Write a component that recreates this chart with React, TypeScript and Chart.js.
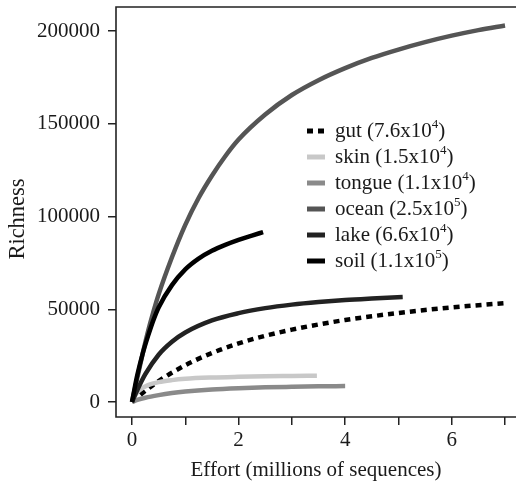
import React, { useEffect, useRef } from 'react';
import { Chart, registerables } from 'chart.js';

Chart.register(...registerables);

// ---- data (effort in millions of sequences, richness = number of OTUs) ----
const seriesNames = ['gut', 'skin', 'tongue', 'ocean', 'lake', 'soil'];
const asymptoteMantissa = ['7.6', '1.5', '1.1', '2.5', '6.6', '1.1'];
const asymptoteExponent = ['4', '4', '4', '5', '4', '5'];
const seriesColors = ['#000000', '#c8c8c8', '#8a8a8a', '#555555', '#222222', '#000000'];

const gutEffort = [0, 0.25, 0.5, 1, 1.5, 2, 2.5, 3, 3.5, 4, 4.5, 5, 5.5, 6, 6.5, 7];
const gutRichness = [0, 6000, 11300, 19800, 26400, 31600, 35700, 39000, 41800, 44200, 46200, 48000, 49600, 51000, 52200, 53300];

const skinEffort = [0, 0.05, 0.1, 0.2, 0.3, 0.5, 0.75, 1, 1.5, 2, 2.5, 3, 3.47];
const skinRichness = [0, 3000, 5200, 7600, 9100, 10700, 11800, 12500, 13200, 13600, 13900, 14050, 14200];

const tongueEffort = [0, 0.1, 0.25, 0.5, 0.75, 1, 1.5, 2, 2.5, 3, 3.5, 4];
const tongueRichness = [0, 1100, 2300, 3700, 4800, 5600, 6700, 7400, 7900, 8200, 8450, 8600];

const oceanEffort = [0, 0.1, 0.2, 0.3, 0.4, 0.5, 0.75, 1, 1.25, 1.5, 1.75, 2, 2.5, 3, 3.5, 4, 4.5, 5, 5.5, 6, 6.5, 7];
const oceanRichness = [0, 13000, 26000, 38000, 48500, 58000, 78000, 95500, 110000, 122000, 132500, 141500, 155000, 165500, 173500, 180000, 185500, 190000, 194000, 197500, 200500, 203000];

const lakeEffort = [0, 0.1, 0.25, 0.5, 0.75, 1, 1.5, 2, 2.5, 3, 3.5, 4, 4.5, 5.08];
const lakeRichness = [0, 6500, 15000, 25500, 32500, 37500, 44000, 47900, 50600, 52500, 53900, 55000, 55800, 56600];

const soilEffort = [0, 0.05, 0.1, 0.2, 0.3, 0.4, 0.5, 0.75, 1, 1.25, 1.5, 1.75, 2, 2.25, 2.46];
const soilRichness = [0, 7500, 14500, 26000, 35500, 44000, 51000, 63000, 71500, 77300, 81500, 84700, 87400, 89700, 91600];

const xTickValues = [0, 1, 2, 3, 4, 5, 6, 7];
const xTickLabels = ['0', '', '2', '', '4', '', '6', ''];
const yTickValues = [0, 50000, 100000, 150000, 200000];

const xTitle = 'Effort (millions of sequences)';
const yTitle = 'Richness';

const seriesEffort = [gutEffort, skinEffort, tongueEffort, oceanEffort, lakeEffort, soilEffort];
const seriesRichness = [gutRichness, skinRichness, tongueRichness, oceanRichness, lakeRichness, soilRichness];

const FONT = '"Liberation Serif", "Times New Roman", serif';
const INK = '#1a1a1a';

const framePlugin = {
  id: 'frame',
  afterDatasetsDraw(chart: any) {
    const { ctx, chartArea } = chart;
    const { left, top, right, bottom } = chartArea;
    ctx.save();
    ctx.strokeStyle = '#222';
    ctx.lineWidth = 1.6;
    ctx.beginPath();
    ctx.moveTo(right, top);
    ctx.lineTo(left, top);
    ctx.lineTo(left, bottom);
    ctx.lineTo(right, bottom);
    ctx.stroke();
    ctx.restore();
  },
};

const yTitlePlugin = {
  id: 'yTitle',
  afterDraw(chart: any) {
    const { ctx, chartArea } = chart;
    ctx.save();
    ctx.translate(18, (chartArea.top + chartArea.bottom) / 2 + 7);
    ctx.rotate(-Math.PI / 2);
    ctx.font = `22.5px ${FONT}`;
    ctx.fillStyle = INK;
    ctx.textAlign = 'center';
    ctx.textBaseline = 'middle';
    ctx.fillText(yTitle, 0, 0);
    ctx.restore();
  },
};

const legendPlugin = {
  id: 'customLegend',
  afterDraw(chart: any) {
    const { ctx, chartArea } = chart;
    const x0 = chartArea.left + 191;
    const y0 = chartArea.top + 124;
    const step = 26;
    ctx.save();
    chart.data.datasets.forEach((ds: any, i: number) => {
      const y = y0 + i * step;
      ctx.strokeStyle = ds.borderColor;
      ctx.lineWidth = 5;
      ctx.lineCap = 'butt';
      ctx.setLineDash(ds.borderDash || []);
      ctx.beginPath();
      ctx.moveTo(x0, y);
      ctx.lineTo(x0 + 18, y);
      ctx.stroke();
      ctx.setLineDash([]);
      ctx.fillStyle = INK;
      ctx.textBaseline = 'middle';
      ctx.textAlign = 'left';
      const base = `${seriesNames[i]} (${asymptoteMantissa[i]}x10`;
      ctx.font = `21px ${FONT}`;
      let tx = x0 + 28;
      ctx.fillText(base, tx, y);
      tx += ctx.measureText(base).width;
      ctx.font = `13px ${FONT}`;
      ctx.fillText(asymptoteExponent[i], tx, y - 6);
      tx += ctx.measureText(asymptoteExponent[i]).width;
      ctx.font = `21px ${FONT}`;
      ctx.fillText(')', tx, y);
    });
    ctx.restore();
  },
};

const zeroPad = (s: any) => {
  s.paddingTop = 0;
  s.paddingBottom = 0;
  s.paddingLeft = 0;
  s.paddingRight = 0;
};

export default function App() {
  const ref = useRef<HTMLCanvasElement | null>(null);

  useEffect(() => {
    if (!ref.current) return;
    const datasets = seriesNames.map((name, i) => ({
      label: `${name} (${asymptoteMantissa[i]}x10^${asymptoteExponent[i]})`,
      data: seriesEffort[i].map((x, j) => ({ x, y: seriesRichness[i][j] })),
      borderColor: seriesColors[i],
      backgroundColor: seriesColors[i],
      borderWidth: 4.5,
      borderDash: name === 'gut' ? [6, 5] : undefined,
      borderCapStyle: 'butt',
      pointRadius: 0,
      cubicInterpolationMode: 'monotone',
      fill: false,
      order: seriesNames.length - 1 - i,
    }));

    const chart = new Chart(ref.current, {
      type: 'line',
      data: { datasets } as any,
      options: {
        animation: false,
        responsive: false,
        devicePixelRatio: 1,
        layout: { padding: { top: 7, right: 0, left: 0, bottom: 0 } },
        plugins: { legend: { display: false }, tooltip: { enabled: false } },
        scales: {
          x: {
            type: 'linear',
            min: -0.3,
            max: 7.206,
            afterFit: (s: any) => { s.height = 68; zeroPad(s); },
            afterBuildTicks: (s: any) => { s.ticks = xTickValues.map((v) => ({ value: v })); },
            border: { display: false },
            grid: { display: true, drawOnChartArea: false, drawTicks: true, tickLength: 8, color: '#222', lineWidth: 1.5 },
            ticks: {
              color: INK,
              font: { family: FONT, size: 21 },
              padding: 3,
              maxRotation: 0,
              autoSkip: false,
              callback: (v: any) => xTickLabels[xTickValues.indexOf(Number(v))] ?? '',
            },
            title: { display: true, text: xTitle, color: INK, font: { family: FONT, size: 21 }, padding: { top: 0, bottom: 2 } },
          },
          y: {
            type: 'linear',
            min: -8087,
            max: 212950,
            afterFit: (s: any) => { s.width = 116; zeroPad(s); },
            afterBuildTicks: (s: any) => { s.ticks = yTickValues.map((v) => ({ value: v })); },
            border: { display: false },
            grid: { display: true, drawOnChartArea: false, drawTicks: true, tickLength: 8, color: '#222', lineWidth: 1.5 },
            ticks: {
              color: INK,
              font: { family: FONT, size: 21 },
              padding: 8,
              autoSkip: false,
              callback: (v: any) => String(v),
            },
            title: { display: false, text: yTitle },
          },
        },
      },
      plugins: [framePlugin, legendPlugin, yTitlePlugin],
    } as any);

    return () => chart.destroy();
  }, []);

  return (
    <div style={{ position: 'fixed', left: 0, top: 0, width: 516, height: 485, background: '#fff' }}>
      <canvas ref={ref} width={516} height={485} />
    </div>
  );
}
